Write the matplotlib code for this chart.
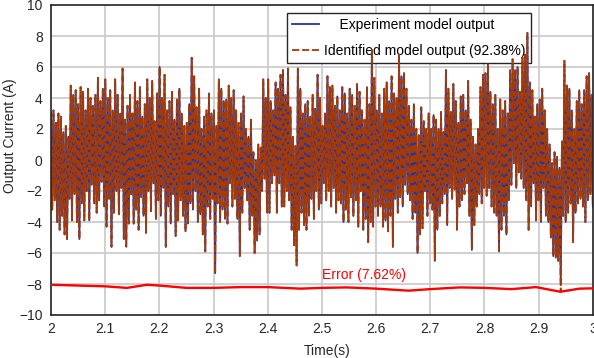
import numpy as np
import matplotlib
matplotlib.use("Agg")
import matplotlib.pyplot as plt

plt.rcParams['font.family'] = ['Liberation Sans', 'DejaVu Sans']

# peaks / troughs of the measured current, one list pair per 0.1 s
peaks_20 = [3.0, 3.2, 2.4, 3.0, 2.8, 1.8, 2.2, 1.5, 4.8, 4.2, 4.5, 3.6, 4.7, 4.4, 3.2, 4.6, 4.0, 3.5, 4.2, 5.3, 3.8, 4.6]
trough_20 = [-3.2, -2.6, -4.0, -4.5, -3.6, -4.8, -5.1, -2.5, -3.9, -2.2, -4.0, -5.1, -2.8, -3.9, -2.0, -3.9, -1.6, -2.8, -3.4, -2.6, -1.4, -3.0]
peaks_21 = [5.2, 4.0, 4.5, 3.2, 5.2, 4.2, 3.0, 5.9, 2.6, 3.5, 4.2, 3.0, 5.0, 3.8, 4.7, 2.8, 3.6, 5.2, 4.0, 5.1, 2.5, 4.3]
trough_21 = [-4.3, -2.5, -5.6, -3.4, -2.0, -3.5, -1.8, -5.1, -5.4, -4.1, -2.2, -4.1, -3.2, -4.5, -2.4, -3.6, -4.7, -2.0, -3.3, -1.5, -3.8, -2.6]
peaks_22 = [6.0, 4.0, 5.5, 3.2, 3.8, 4.4, 2.6, 3.9, 4.6, 3.0, 2.2, 2.4, 3.6, 6.6, 5.4, 3.4, 4.6, 2.0, 2.8, 3.2, 4.3, 3.0]
trough_22 = [-3.6, -1.8, -5.6, -3.0, -4.1, -2.2, -4.9, -3.9, -2.6, -3.6, -4.6, -4.1, -2.8, -3.2, -2.0, -4.0, -3.5, -4.8, -5.9, -3.0, -3.8, -2.5]
peaks_23 = [3.2, 2.2, 5.2, 4.6, 3.8, 3.9, 4.8, 4.0, 4.5, 3.2, 2.4, 3.0, 4.1, 2.0, 1.5, 2.6, 0.5, 0.0, 1.0, 0.8, 5.2, 4.0]
trough_23 = [-7.3, -2.8, -4.0, -3.2, -3.8, -4.1, -1.5, -3.0, -2.5, -3.8, -6.2, -3.4, -1.8, -2.6, -4.5, -3.6, -6.0, -5.2, -4.8, -2.0, -1.2, -3.4]
peaks_24 = [5.2, 3.8, 3.2, 5.0, 4.6, 5.5, 5.8, 4.2, 5.9, 3.4, 1.5, 0.9, 5.9, 4.6, 3.0, 3.6, 3.8, 2.8, 4.2, 3.3, 5.5, 4.0]
trough_24 = [-3.4, -1.5, -1.0, -3.4, -1.5, -3.0, -3.0, -2.0, -2.6, -4.5, -5.5, -6.8, -4.5, -3.4, -4.2, -4.5, -3.6, -2.5, -3.8, -2.0, -3.2, -2.8]
peaks_25 = [2.2, 3.0, 5.4, 4.7, 4.8, 3.5, 4.1, 3.2, 4.7, 4.3, 3.0, 4.6, 4.2, 3.5, 4.9, 4.4, 3.2, 2.6, 4.7, 3.6, 7.1, 5.3]
trough_25 = [-1.5, -2.6, -2.0, -3.0, -1.8, -3.4, -2.6, -2.8, -4.0, -3.2, -4.0, -2.4, -3.6, -2.6, -4.3, -2.0, -4.5, -3.8, -5.3, -4.0, -4.3, -3.0]
peaks_26 = [3.2, 4.2, 3.0, 4.6, 5.0, 3.8, 5.4, 4.3, 4.0, 6.8, 5.4, 5.6, 4.6, 3.5, 2.6, 3.6, 2.0, 1.6, 3.4, 2.5, 2.0, 3.0]
trough_26 = [-3.6, -3.0, -4.3, -3.9, -4.6, -3.6, -5.6, -2.5, -3.4, -2.4, -3.0, -1.6, -2.2, -2.6, -3.8, -3.4, -6.0, -4.8, -4.4, -2.0, -3.6, -2.8]
peaks_27 = [2.0, 2.9, 2.6, 2.0, 3.1, 1.8, 5.8, 4.6, 3.1, 4.9, 3.8, 2.4, 4.1, 4.2, 3.2, 5.1, 2.6, 1.5, 1.0, 2.0, 4.7, 5.5]
trough_27 = [-3.2, -6.5, -4.5, -3.6, -2.8, -2.2, -4.2, -1.8, -2.5, -1.9, -4.5, -3.0, -2.6, -2.2, -1.5, -3.6, -5.8, -4.2, -3.0, -2.2, -2.8, -1.8]
peaks_28 = [5.6, 6.2, 4.4, 3.6, 4.2, 2.0, 3.9, 3.2, 3.8, 3.0, 5.8, 6.5, 5.8, 6.0, 4.4, 6.6, 6.8, 8.2, 5.0, 4.5, 2.8, 3.6]
trough_28 = [-2.3, -1.8, -3.0, -3.4, -3.6, -5.9, -4.5, -3.6, -4.8, -2.6, -1.6, -0.2, -1.8, -0.8, -1.2, -1.8, -2.6, -4.5, -3.0, -1.5, -3.9, -2.6]
peaks_29 = [3.9, 4.6, 3.2, 2.0, 1.0, -0.2, 0.5, 0.2, -0.5, 1.2, 6.4, 4.8, 4.6, 3.2, 2.0, 3.8, 4.5, 3.6, 4.5, 5.4, 5.6, 4.2]
trough_29 = [-4.0, -1.8, -3.6, -4.0, -5.0, -6.2, -6.3, -6.5, -7.8, -3.6, -4.0, -3.4, -2.8, -5.3, -3.4, -2.8, -2.5, -3.0, -4.0, -2.6, -2.2, -3.0]

# spots where the identified model departs from the measurement (sample index, value)
ident_diff = [(61, -5.6), (413, -8.5)]

# error curve
err_t = [2.0, 2.05, 2.1, 2.14, 2.177, 2.2, 2.25, 2.3, 2.35, 2.4, 2.46, 2.5, 2.545,
         2.6, 2.66, 2.7, 2.755, 2.8, 2.85, 2.895, 2.94, 2.975, 3.0]
err_v = [-8.05, -8.1, -8.15, -8.25, -8.05, -8.1, -8.25, -8.25, -8.2, -8.2, -8.3, -8.25, -8.22,
         -8.3, -8.43, -8.33, -8.22, -8.25, -8.33, -8.2, -8.5, -8.3, -8.28]

xticks = [2, 2.1, 2.2, 2.3, 2.4, 2.5, 2.6, 2.7, 2.8, 2.9, 3]
xlabels = ['2', '2.1', '2.2', '2.3', '2.4', '2.5', '2.6', '2.7', '2.8', '2.9', '3']
yticks = list(range(-10, 11, 2))

segs = [(peaks_20, trough_20), (peaks_21, trough_21), (peaks_22, trough_22), (peaks_23, trough_23),
        (peaks_24, trough_24), (peaks_25, trough_25), (peaks_26, trough_26), (peaks_27, trough_27),
        (peaks_28, trough_28), (peaks_29, trough_29)]
meas = []
for p, tr in segs:
    for a, b in zip(p, tr):
        meas.append(a)
        meas.append(b)
meas = np.array(meas)
ident = meas.copy()
for i, v in ident_diff:
    ident[i] = v
t = np.linspace(2, 3, len(meas))

fig = plt.figure(figsize=(5.94, 3.58), dpi=100)
ax = fig.add_axes([51/594, 43/358, 543/594 - 0.002, 310/358])

ax.plot(t, meas, color='#1f35a5', lw=1.3, zorder=2, label='    Experiment model output')
ax.plot(t, ident, color='#a23a0a', lw=1.3, dashes=(4, 1.5), zorder=2.1,
        label='Identified model output (92.38%)')
ax.plot(err_t, err_v, color='#ff0000', lw=1.7, zorder=3)
ax.text(2.5, -7.45, 'Error (7.62%)', color='#ff0000', fontsize=10, va='center', ha='left', zorder=3)

ax.set_xlim(2, 3)
ax.set_ylim(-10, 10)
ax.set_xticks(xticks)
ax.set_xticklabels(xlabels)
ax.set_yticks(yticks)
ax.tick_params(axis='both', length=0, labelsize=10, colors='#262626')
ax.tick_params(axis='y', pad=6)
ax.tick_params(axis='x', pad=5)
ax.set_axisbelow(True)
ax.grid(True, color='#c8c8c8', lw=1.2)
for s in ax.spines.values():
    s.set_color('#262626')
    s.set_linewidth(1.2)

ax.set_xlabel('Time(s)', fontsize=10, color='#262626')
ax.xaxis.set_label_coords(0.51, -0.095)
ax.set_ylabel('Output Current (A)', fontsize=10, color='#262626')
ax.yaxis.set_label_coords(-0.063, 0.577)

leg = ax.legend(loc='upper left', bbox_to_anchor=(0.435, 0.975), borderaxespad=0,
                fontsize=10, frameon=True, fancybox=False, framealpha=1,
                edgecolor='#262626', labelspacing=0.9, handlelength=2.0,
                handletextpad=0.35, borderpad=0.35)
leg.get_frame().set_linewidth(1.0)
leg.set_zorder(1.5)

fig.savefig('out.png', dpi=100)
